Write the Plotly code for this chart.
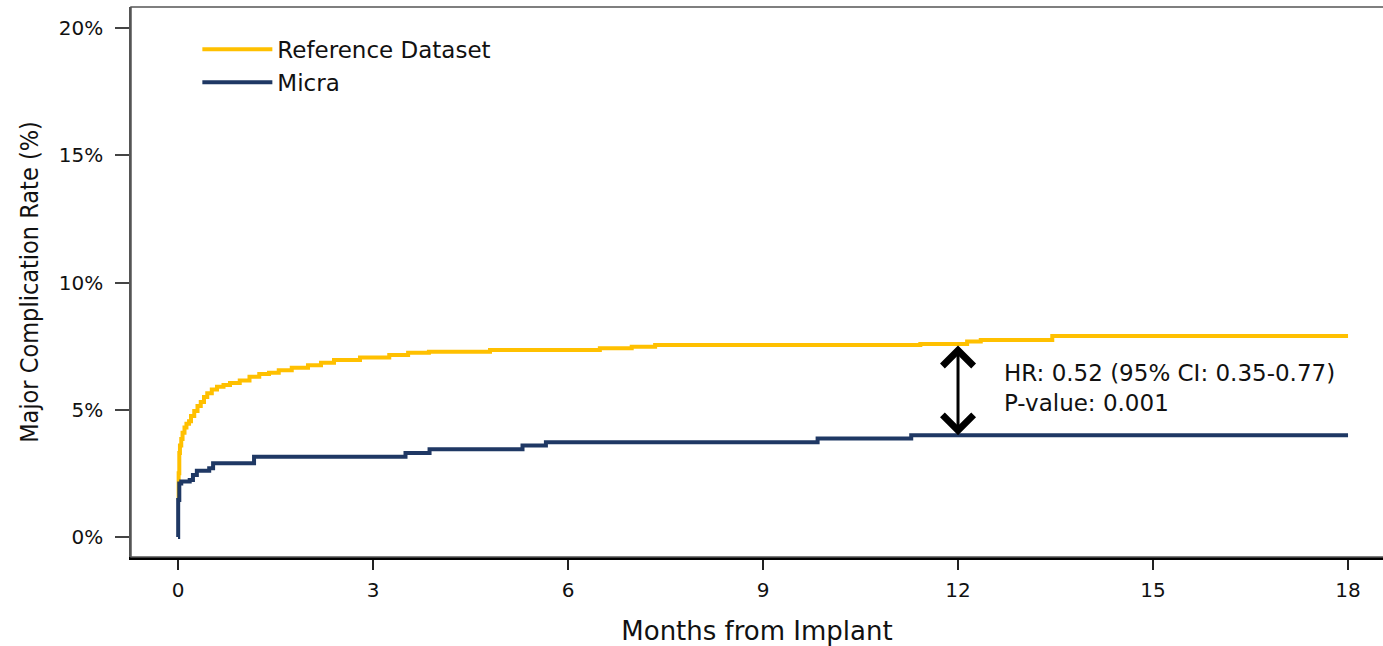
import plotly.graph_objects as go

# ---- data (months from implant, cumulative major complication rate %) ----
ref_months = [0, 0.01, 0.02, 0.03, 0.05, 0.07, 0.10, 0.13, 0.17, 0.20, 0.25, 0.30, 0.35,
              0.40, 0.45, 0.52, 0.60, 0.70, 0.80, 0.95, 1.10, 1.25, 1.40, 1.55, 1.75,
              2.00, 2.20, 2.40, 2.80, 3.25, 3.54, 3.86, 4.80, 6.49, 6.98, 7.34, 11.42,
              12.14, 12.35, 13.45, 18.0]
ref_rate = [1.45, 2.50, 3.30, 3.60, 3.85, 4.10, 4.30, 4.45, 4.55, 4.75, 4.95, 5.15, 5.30,
            5.50, 5.65, 5.80, 5.90, 5.97, 6.05, 6.15, 6.30, 6.40, 6.45, 6.55, 6.65,
            6.75, 6.85, 6.95, 7.05, 7.15, 7.24, 7.28, 7.35, 7.42, 7.48, 7.54, 7.58,
            7.68, 7.74, 7.90, 7.90]

micra_months = [0, 0.003, 0.02, 0.05, 0.18, 0.23, 0.29, 0.48, 0.54, 1.17, 3.50, 3.87,
                5.30, 5.66, 9.84, 11.28, 18.0]
micra_rate = [0, 1.45, 2.10, 2.18, 2.24, 2.44, 2.60, 2.70, 2.90, 3.15, 3.30, 3.45,
              3.60, 3.72, 3.87, 4.00, 4.00]

x_ticks = [0, 3, 6, 9, 12, 15, 18]
y_ticks = [0, 5, 10, 15, 20]
y_tick_labels = [f"{v}%" for v in y_ticks]

hr_month = 12
hr_text = "HR: 0.52 (95% CI: 0.35-0.77)"
p_text = "P-value: 0.001"

YELLOW = "#FFC000"
NAVY = "#1F3864"
FONT = "DejaVu Sans"


def value_at(months, rates, t):
    v = rates[0]
    for m, r in zip(months, rates):
        if m <= t:
            v = r
    return v


fig = go.Figure()
fig.add_trace(go.Scatter(x=ref_months, y=ref_rate, mode="lines", name="Reference Dataset",
                         line=dict(color=YELLOW, width=4, shape="hv")))
fig.add_trace(go.Scatter(x=micra_months, y=micra_rate, mode="lines", name="Micra",
                         line=dict(color=NAVY, width=4, shape="hv")))

y_top = value_at(ref_months, ref_rate, hr_month)
y_bot = value_at(micra_months, micra_rate, hr_month)

# double-headed arrow between curves at 12 months
fig.add_annotation(x=hr_month, y=y_bot, ax=hr_month, ay=y_top, axref="x", ayref="y",
                   xref="x", yref="y", text="", showarrow=True,
                   arrowside="end+start", arrowhead=4, startarrowhead=4,
                   arrowsize=2.0, startarrowsize=2.0, arrowwidth=3, arrowcolor="black")

fig.add_annotation(x=hr_month + 0.68, y=(y_top + y_bot) / 2 + 0.08, xref="x", yref="y",
                   text=hr_text + "<br>" + p_text, showarrow=False,
                   xanchor="left", yanchor="middle", align="left",
                   font=dict(family=FONT, size=23, color="#111"))

# plot box (top/left thin gray)
fig.add_shape(type="rect", xref="paper", yref="paper", x0=0, x1=1.05, y0=0, y1=1,
              line=dict(color="#555", width=1.5), layer="above")

fig.update_layout(
    width=1383, height=646,
    margin=dict(l=131, r=0, t=7, b=89),
    paper_bgcolor="white", plot_bgcolor="white",
    showlegend=True,
    legend=dict(x=0.053, y=0.962, xanchor="left", yanchor="top",
                font=dict(family=FONT, size=23, color="#111"),
                bgcolor="rgba(0,0,0,0)", itemwidth=70),
    xaxis=dict(range=[-0.723, 18.538], tickvals=x_ticks, ticks="outside", ticklen=10,
               tickwidth=1.5, tickcolor="#222", showline=True, linecolor="black",
               linewidth=2.5, showgrid=False, zeroline=False,
               tickfont=dict(family=FONT, size=20, color="#111"),
               ticklabelstandoff=3,
               title=dict(text="Months from Implant", standoff=24,
                          font=dict(family=FONT, size=26, color="#111"))),
    yaxis=dict(range=[-0.786, 20.825], tickvals=y_ticks, ticktext=y_tick_labels,
               ticks="outside", ticklen=14, tickwidth=1.5, tickcolor="#444",
               showline=True, linecolor="#555", linewidth=1.5, showgrid=False,
               zeroline=False, tickfont=dict(family=FONT, size=20, color="#111"),
               ticklabelstandoff=8,
               title=dict(text="Major Complication Rate (%)", standoff=13,
                          font=dict(family="Liberation Sans Narrow, DejaVu Sans Condensed",
                                    size=25, color="#111"))),
)

fig.write_html("out.html", config={"displayModeBar": False},
               post_script="document.body.style.margin='0';")
